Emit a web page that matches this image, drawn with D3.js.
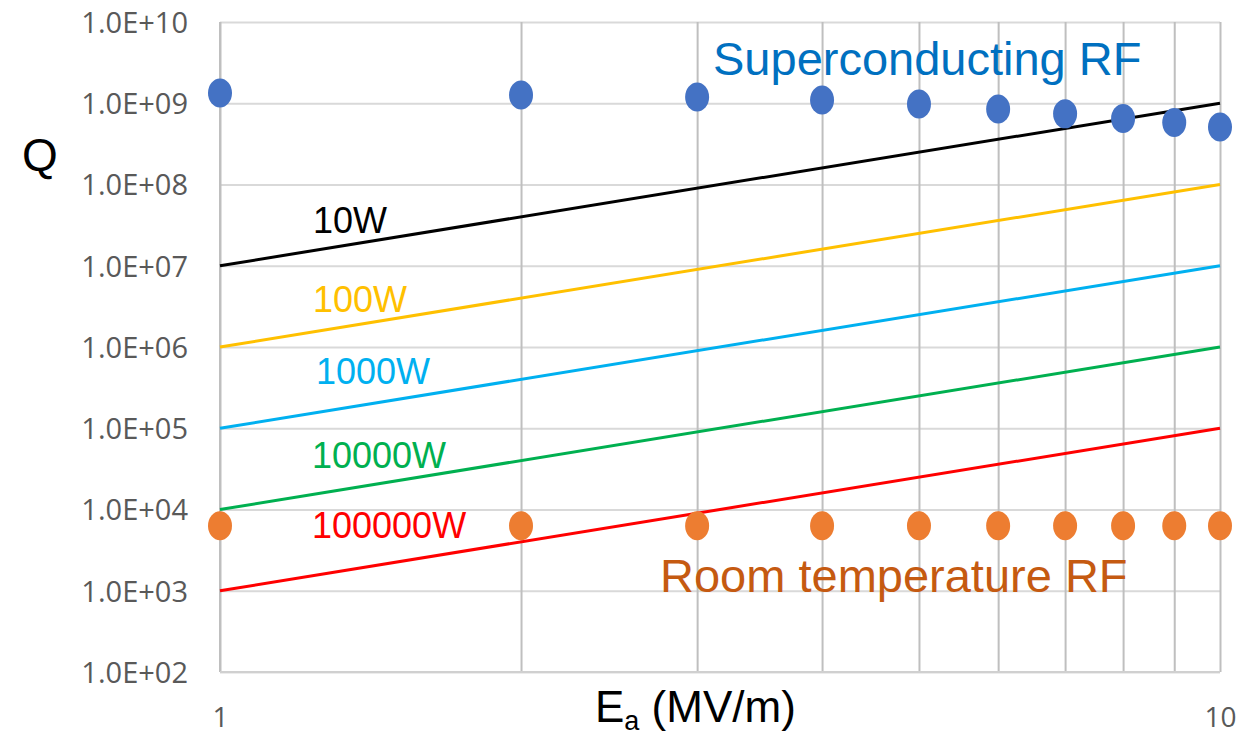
<!DOCTYPE html>
<html>
<head>
<meta charset="utf-8">
<script src="https://cdn.jsdelivr.net/npm/d3@7"></script>
<style>
  body { margin: 0; background: #fff; }
  svg text { font-family: "Liberation Sans", Arial, sans-serif; }
  .tick text { font-family: "Open Sans", sans-serif; fill: #595959; }
  .domain { display: none; }
</style>
</head>
<body>
<div id="chart"></div>
<script>
// data
var eField = [1, 2, 3, 4, 5, 6, 7, 8, 9, 10];
var qSuper = [1.34e9, 1.26e9, 1.19e9, 1.10e9, 9.8e8, 8.5e8, 7.4e8, 6.5e8, 5.8e8, 5.1e8];
var qRoom = [6.3e3, 6.3e3, 6.3e3, 6.3e3, 6.3e3, 6.3e3, 6.3e3, 6.3e3, 6.3e3, 6.3e3];
var lineE = [1, 10];
var q10W = [1e7, 1e9];
var q100W = [1e6, 1e8];
var q1000W = [1e5, 1e7];
var q10000W = [1e4, 1e6];
var q100000W = [1e3, 1e5];
var powerNames = ["10W", "100W", "1000W", "10000W", "100000W"];
var yTicks = [1e2, 1e3, 1e4, 1e5, 1e6, 1e7, 1e8, 1e9, 1e10];
var xTicks = [1, 10];
var xGrid = [1, 2, 3, 4, 5, 6, 7, 8, 9, 10];

var margin = {top: 22, right: 29, bottom: 67, left: 220};
var W = 1249, H = 739;
var width = W - margin.left - margin.right;
var height = H - margin.top - margin.bottom;

var svg = d3.select("#chart").append("svg")
    .attr("width", W).attr("height", H)
  .append("g")
    .attr("transform", "translate(" + margin.left + "," + margin.top + ")");

var x = d3.scaleLog().domain([1, 10]).range([0, width]);
var y = d3.scaleLog().domain([1e2, 1e10]).range([height, 0]);

// horizontal grid + y labels
svg.append("g")
    .call(d3.axisLeft(y)
      .tickValues(yTicks)
      .tickSize(-width)
      .tickPadding(32)
      .tickFormat(function(d) { return "1.0E+" + String(Math.round(Math.log10(d))).padStart(2, "0"); }))
    .call(function(g) {
      g.selectAll(".tick line").attr("stroke", "#d9d9d9").attr("stroke-width", 2);
      g.selectAll(".tick text").style("font-size", "29px").attr("dy", "0.36em");
    });

// vertical grid
svg.append("g")
    .attr("transform", "translate(0," + height + ")")
    .call(d3.axisBottom(x).tickValues(xGrid).tickSize(-height).tickFormat(""))
    .call(function(g) {
      g.selectAll(".tick line").attr("stroke", "#bfbfbf").attr("stroke-width", 2);
    });

// x labels
svg.append("g")
    .attr("transform", "translate(0," + height + ")")
    .call(d3.axisBottom(x).tickValues(xTicks).tickSize(0).tickPadding(35).tickFormat(d3.format("d")))
    .call(function(g) {
      g.selectAll(".tick text").style("font-size", "28px");
    });

// left + bottom frame
svg.append("line").attr("x1", 0).attr("x2", 0).attr("y1", 0).attr("y2", height)
    .attr("stroke", "#bfbfbf").attr("stroke-width", 2);
svg.append("line").attr("x1", 0).attr("x2", width).attr("y1", height).attr("y2", height)
    .attr("stroke", "#d0d0d0").attr("stroke-width", 2);

// power lines
var series = [
  {name: powerNames[0], q: q10W, color: "#000000"},
  {name: powerNames[1], q: q100W, color: "#ffc000"},
  {name: powerNames[2], q: q1000W, color: "#00b0f0"},
  {name: powerNames[3], q: q10000W, color: "#00b050"},
  {name: powerNames[4], q: q100000W, color: "#ff0000"}
];

var line = d3.line()
    .x(function(d) { return x(d[0]); })
    .y(function(d) { return y(d[1]); });

series.forEach(function(s) {
  svg.append("path")
     .datum(d3.zip(lineE, s.q))
     .attr("d", line)
     .attr("fill", "none")
     .attr("stroke", s.color)
     .attr("stroke-width", 3);
});

// dots
svg.selectAll("ellipse.sc")
    .data(d3.zip(eField, qSuper))
  .enter().append("ellipse")
    .attr("class", "sc")
    .attr("cx", function(d) { return x(d[0]); })
    .attr("cy", function(d) { return y(d[1]); })
    .attr("rx", 12).attr("ry", 14.5)
    .attr("fill", "#4472c4");

svg.selectAll("ellipse.rt")
    .data(d3.zip(eField, qRoom))
  .enter().append("ellipse")
    .attr("class", "rt")
    .attr("cx", function(d) { return x(d[0]); })
    .attr("cy", function(d) { return y(d[1]); })
    .attr("rx", 12).attr("ry", 14.5)
    .attr("fill", "#ed7d31");

// series labels (text placed by hand like in the original)
var labelPos = [[93, 211], [93, 290], [96, 362], [92, 446], [92, 516]];
series.forEach(function(s, i) {
  svg.append("text")
     .attr("x", labelPos[i][0])
     .attr("y", labelPos[i][1])
     .text(s.name)
     .style("font-size", "36px")
     .style("fill", s.color);
});

svg.append("text")
   .attr("x", 493).attr("y", 53)
   .text("Superconducting RF")
   .style("font-size", "47px")
   .style("fill", "#0070c0");

svg.append("text")
   .attr("x", 440).attr("y", 570)
   .text("Room temperature RF")
   .style("font-size", "47px")
   .style("fill", "#c55a11");

// axis titles
svg.append("text")
   .attr("x", -198).attr("y", 149)
   .text("Q")
   .style("font-size", "46px")
   .style("fill", "#000");

var xt = svg.append("text")
   .attr("x", 375).attr("y", 700)
   .style("font-size", "44px")
   .style("fill", "#000");
xt.append("tspan").text("E");
xt.append("tspan").text("a").attr("dy", 8).style("font-size", "27px");
xt.append("tspan").text(" (MV/m)").attr("dy", -8);
</script>
</body>
</html>
